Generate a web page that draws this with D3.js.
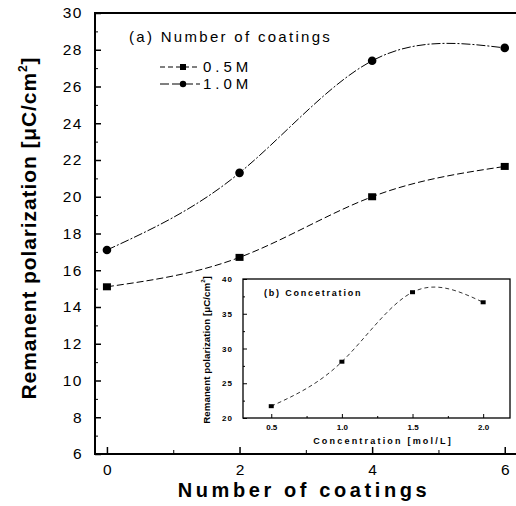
<!DOCTYPE html>
<html>
<head>
<meta charset="utf-8">
<script src="https://cdn.jsdelivr.net/npm/d3@7"></script>
<style>
  body { margin: 0; background: #fff; }
  text { font-family: "Liberation Sans", Arial, sans-serif; fill: #000; }
</style>
</head>
<body>
<div id="chart"></div>
<script>
// main chart data
const coatings = [0, 2, 4, 6];
const pr05 = [15.1, 16.7, 20.0, 21.65];
const pr10 = [17.1, 21.3, 27.4, 28.1];
const yTicks = [6, 8, 10, 12, 14, 16, 18, 20, 22, 24, 26, 28, 30];
const xTicks = [0, 2, 4, 6];

// inset data
const conc = [0.5, 1.0, 1.5, 2.0];
const prConc = [21.7, 28.1, 38.1, 36.65];
const insetYTicks = [20, 25, 30, 35, 40];
const insetXTicks = [0.5, 1.0, 1.5, 2.0];

const WIDTH = 516, HEIGHT = 506;
const svg = d3.select("#chart").append("svg").attr("width", WIDTH).attr("height", HEIGHT);

// main scales
const x = d3.scaleLinear().domain([-0.18, 6.2]).range([95, 518]);
const y = d3.scaleLinear().domain([6, 30]).range([454, 13]);

// frame
svg.append("rect").attr("x", 95).attr("y", 13).attr("width", 430).attr("height", 441)
  .attr("fill", "none").attr("stroke", "#000").attr("stroke-width", 2);

// y axis ticks (inside)
const yAxis = d3.axisRight(y).tickValues(yTicks).tickSize(6).tickFormat(d3.format("d"));
const gy = svg.append("g").attr("transform", "translate(95,0)").call(yAxis);
gy.select(".domain").remove();
gy.selectAll("line").attr("stroke-width", 1.5);
gy.selectAll("text").attr("x", -12).attr("text-anchor", "end")
  .style("font-size", "15.5px").style("letter-spacing", "1.5px");
svg.append("g").attr("transform", "translate(95,0)")
  .call(d3.axisRight(y).tickValues(d3.range(7, 30, 2)).tickSize(3).tickFormat(""))
  .call(g => g.select(".domain").remove());

// x axis ticks (inside)
const gx = svg.append("g").attr("transform", "translate(0,454)")
  .call(d3.axisTop(x).tickValues(xTicks).tickSize(7).tickFormat(d3.format("d")));
gx.select(".domain").remove();
gx.selectAll("line").attr("stroke-width", 1.5);
gx.selectAll("text").attr("y", 21).style("font-size", "15.5px");
svg.append("g").attr("transform", "translate(0,454)")
  .call(d3.axisTop(x).tickValues([1, 3, 5]).tickSize(4).tickFormat(""))
  .call(g => g.select(".domain").remove());

// axis titles
svg.append("text").attr("x", 304).attr("y", 497).attr("text-anchor", "middle")
  .style("font-size", "20px").style("font-weight", "bold").style("letter-spacing", "3.6px")
  .text("Number of coatings");
const yl = svg.append("text").attr("transform", "translate(36,228) rotate(-90)")
  .attr("text-anchor", "middle").style("font-size", "21px").style("font-weight", "bold")
  .style("letter-spacing", "0.9px");
yl.append("tspan").text("Remanent polarization [μC/cm");
yl.append("tspan").attr("dy", -9).style("font-size", "12px").text("2");
yl.append("tspan").attr("dy", 9).text("]");

// series
const line = d3.line().x(d => x(d[0])).y(d => y(d[1])).curve(d3.curveNatural);
svg.append("path").datum(coatings.map((c, i) => [c, pr05[i]]))
  .attr("d", line).attr("fill", "none").attr("stroke", "#000").attr("stroke-width", 1)
  .attr("stroke-dasharray", "7,3");
svg.append("path").datum(coatings.map((c, i) => [c, pr10[i]]))
  .attr("d", line).attr("fill", "none").attr("stroke", "#000").attr("stroke-width", 1)
  .attr("stroke-dasharray", "9,2,2,2");

svg.selectAll(".sq").data(coatings.map((c, i) => [c, pr05[i]])).enter().append("rect")
  .attr("x", d => x(d[0]) - 4).attr("y", d => y(d[1]) - 3.5).attr("width", 8).attr("height", 7);
svg.selectAll(".ci").data(coatings.map((c, i) => [c, pr10[i]])).enter().append("circle")
  .attr("cx", d => x(d[0])).attr("cy", d => y(d[1])).attr("r", 4.3);

// legend
svg.append("text").attr("x", 129).attr("y", 42).style("font-size", "15px").style("letter-spacing", "2.3px")
  .text("(a) Number of coatings");
const legend = [["0.5M", "sq", "5,3"], ["1.0M", "ci", "9,3"]];
legend.forEach((l, i) => {
  const ly = 67 + i * 17;
  svg.append("line").attr("x1", 160).attr("x2", 200).attr("y1", ly).attr("y2", ly)
    .attr("stroke", "#000").attr("stroke-dasharray", l[2]);
  if (l[1] === "sq") svg.append("rect").attr("x", 180).attr("y", ly - 3).attr("width", 6).attr("height", 6);
  else svg.append("circle").attr("cx", 183).attr("cy", ly).attr("r", 3.2);
  svg.append("text").attr("x", 203).attr("y", ly + 5).style("font-size", "15px").style("letter-spacing", "4px").text(l[0]);
});

// ---- inset ----
const ix = d3.scaleLinear().domain([0.3, 2.19]).range([243, 510]);
const iy = d3.scaleLinear().domain([20, 40]).range([418, 279]);
const inset = svg.append("g");
inset.append("rect").attr("x", 243).attr("y", 279).attr("width", 267).attr("height", 139)
  .attr("fill", "#fff").attr("stroke", "#000").attr("stroke-width", 1.3);

const igy = inset.append("g").attr("transform", "translate(243,0)")
  .call(d3.axisRight(iy).tickValues(insetYTicks).tickSize(4).tickFormat(d3.format("d")));
igy.select(".domain").remove();
igy.selectAll("text").attr("x", -10).attr("text-anchor", "end")
  .style("font-size", "8px").style("font-weight", "bold").style("letter-spacing", "1px");
inset.append("g").attr("transform", "translate(243,0)")
  .call(d3.axisRight(iy).tickValues([22.5, 27.5, 32.5, 37.5]).tickSize(2).tickFormat(""))
  .call(g => g.select(".domain").remove());

const igx = inset.append("g").attr("transform", "translate(0,418)")
  .call(d3.axisTop(ix).tickValues(insetXTicks).tickSize(4).tickFormat(d3.format(".1f")));
igx.select(".domain").remove();
igx.selectAll("text").attr("y", 12).style("font-size", "8px").style("font-weight", "bold");
inset.append("g").attr("transform", "translate(0,418)")
  .call(d3.axisTop(ix).tickValues([0.75, 1.25, 1.75]).tickSize(2).tickFormat(""))
  .call(g => g.select(".domain").remove());

inset.append("text").attr("x", 383).attr("y", 444).attr("text-anchor", "middle")
  .style("font-size", "9px").style("font-weight", "bold").style("letter-spacing", "2.2px")
  .text("Concentration [mol/L]");
const iyl = inset.append("text").attr("transform", "translate(210,350) rotate(-90)")
  .attr("text-anchor", "middle").style("font-size", "9.8px").style("font-weight", "bold");
iyl.append("tspan").text("Remanent polarization [μC/cm");
iyl.append("tspan").attr("dy", -5).style("font-size", "6px").text("2");
iyl.append("tspan").attr("dy", 5).text("]");
inset.append("text").attr("x", 264).attr("y", 296).style("font-size", "9px").style("font-weight", "bold")
  .style("letter-spacing", "1.8px").text("(b) Concetration");

const iline = d3.line().x(d => ix(d[0])).y(d => iy(d[1])).curve(d3.curveNatural);
inset.append("path").datum(conc.map((c, i) => [c, prConc[i]]))
  .attr("d", iline).attr("fill", "none").attr("stroke", "#000").attr("stroke-width", 0.8)
  .attr("stroke-dasharray", "4,3");
inset.selectAll(".isq").data(conc.map((c, i) => [c, prConc[i]])).enter().append("rect")
  .attr("x", d => ix(d[0]) - 2.5).attr("y", d => iy(d[1]) - 2).attr("width", 5).attr("height", 4);
</script>
</body>
</html>
